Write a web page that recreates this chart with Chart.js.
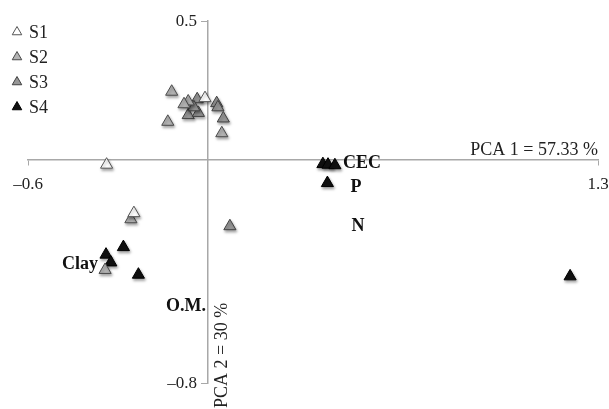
<!DOCTYPE html>
<html>
<head>
<meta charset="utf-8">
<script src="https://cdn.jsdelivr.net/npm/chart.js@4/dist/chart.umd.min.js"></script>
<style>
  html, body { margin: 0; padding: 0; background: #fff; }
  #wrap { width: 609px; height: 409px; }
</style>
</head>
<body>
<div id="wrap"><canvas id="pca" width="609" height="409"></canvas></div>
<script>
// scores (PCA 1, PCA 2)
const s1X = [-0.338, -0.010, -0.247];
const s1Y = [-0.016, 0.223, -0.190];

const s2X = [-0.121, -0.066, -0.080, -0.134, 0.046, -0.257, -0.343];
const s2Y = [0.246, 0.211, 0.201, 0.138, 0.097, -0.212, -0.394];

const s3X = [-0.036, 0.029, 0.033, -0.066, -0.032, -0.047, 0.051, 0.073];
const s3Y = [0.219, 0.205, 0.190, 0.162, 0.170, 0.190, 0.150, -0.237];

const s4X = [-0.282, -0.340, -0.324, -0.232, 0.383, 0.400, 0.423, 0.398, 1.207];
const s4Y = [-0.312, -0.339, -0.367, -0.411, -0.014, -0.016, -0.018, -0.082, -0.417];

// variable labels
const varNames = ['CEC', 'P', 'N', 'Clay', 'O.M.'];
const varX = [0.513, 0.493, 0.500, -0.427, -0.073];
const varY = [-0.011, -0.097, -0.237, -0.373, -0.524];

const xTicks = [-0.6, 1.3];
const yTicks = [-0.8, 0.5];
const xTitle = 'PCA 1 = 57.33 %';
const yTitle = 'PCA 2 = 30 %';

const seriesNames = ['S1', 'S2', 'S3', 'S4'];
const fills = ['#ffffff', '#b4b4b4', '#979797', '#111111'];
const borders = ['#555555', '#4a4a4a', '#404040', '#000000'];

const SERIF = '"Liberation Serif", "DejaVu Serif", serif';

const toPoints = (xs, ys) => xs.map((x, i) => ({ x: x, y: ys[i] }));
const allX = [s1X, s2X, s3X, s4X];
const allY = [s1Y, s2Y, s3Y, s4Y];

const datasets = seriesNames.map((name, i) => ({
  label: name,
  data: toPoints(allX[i], allY[i]),
  pointStyle: 'triangle',
  pointRadius: 7,
  pointBorderWidth: 1,
  backgroundColor: fills[i],
  borderColor: borders[i],
  clip: false
}));

const fmt = (v) => (v < 0 ? '\u2013' + Math.abs(v) : String(v));

// keep the end tick labels from pushing the plot area inwards
const noEdgePad = (axis) => {
  axis.paddingLeft = 0;
  axis.paddingRight = 0;
  axis.paddingTop = 0;
  axis.paddingBottom = 0;
};

const extras = {
  id: 'extras',
  beforeDatasetsDraw(chart) {
    const ctx = chart.ctx;
    ctx.save();
    ctx.shadowColor = 'rgba(0,0,0,0.35)';
    ctx.shadowBlur = 3;
    ctx.shadowOffsetX = 1;
    ctx.shadowOffsetY = 2;
  },
  afterDatasetsDraw(chart) {
    const ctx = chart.ctx;
    ctx.restore();
    const xs = chart.scales.x, ys = chart.scales.y;
    const x0 = xs.getPixelForValue(0);

    ctx.save();
    // y tick labels (chart.js puts them flush on a centred axis, so set them off by hand)
    ctx.fillStyle = '#222';
    ctx.font = '17px ' + SERIF;
    ctx.textAlign = 'right';
    ctx.textBaseline = 'middle';
    yTicks.forEach((v) => {
      ctx.fillText(fmt(v), x0 - 11, ys.getPixelForValue(v) + 1);
    });

    // variable labels
    ctx.fillStyle = '#111';
    ctx.font = 'bold 18px ' + SERIF;
    ctx.textAlign = 'center';
    varNames.forEach((n, i) => {
      ctx.fillText(n, xs.getPixelForValue(varX[i]), ys.getPixelForValue(varY[i]));
    });

    // axis titles
    ctx.font = '18px ' + SERIF;
    ctx.fillStyle = '#222';
    ctx.textAlign = 'right';
    ctx.fillText(xTitle, xs.getPixelForValue(xTicks[1]), ys.getPixelForValue(0) - 10);
    ctx.translate(x0 + 14, ys.getPixelForValue(yTicks[0]) + 25);
    ctx.rotate(-Math.PI / 2);
    ctx.textAlign = 'left';
    ctx.fillText(yTitle, 0, 0);
    ctx.restore();

    // legend
    ctx.save();
    ctx.font = '18px ' + SERIF;
    ctx.textBaseline = 'middle';
    ctx.textAlign = 'left';
    seriesNames.forEach((n, i) => {
      const cy = 32 + i * 25;
      const cx = 17, r = 5.5;
      ctx.beginPath();
      ctx.moveTo(cx, cy - r);
      ctx.lineTo(cx + r * 0.866, cy + r * 0.5);
      ctx.lineTo(cx - r * 0.866, cy + r * 0.5);
      ctx.closePath();
      ctx.fillStyle = fills[i];
      ctx.fill();
      ctx.strokeStyle = borders[i];
      ctx.lineWidth = 1;
      ctx.stroke();
      ctx.fillStyle = '#222';
      ctx.fillText(n, 29, cy + 1);
    });
    ctx.restore();
  }
};

new Chart(document.getElementById('pca'), {
  type: 'scatter',
  data: { datasets: datasets },
  options: {
    responsive: false,
    animation: false,
    layout: { padding: { left: 28, right: 11, top: 21, bottom: 26 } },
    plugins: {
      legend: { display: false },
      tooltip: { enabled: false }
    },
    scales: {
      x: {
        type: 'linear',
        position: { y: 0 },
        min: xTicks[0],
        max: xTicks[1],
        afterBuildTicks: (axis) => { axis.ticks = xTicks.map(v => ({ value: v })); },
        afterFit: noEdgePad,
        grid: { drawOnChartArea: false, tickLength: 5, color: '#a8a8a8' },
        border: { color: '#a8a8a8', width: 1.5 },
        ticks: {
          color: '#222',
          padding: 9,
          maxRotation: 0,
          font: { family: SERIF, size: 17 },
          callback: (v) => fmt(v)
        }
      },
      y: {
        type: 'linear',
        position: { x: 0 },
        min: yTicks[0],
        max: yTicks[1],
        afterBuildTicks: (axis) => { axis.ticks = yTicks.map(v => ({ value: v })); },
        afterFit: noEdgePad,
        grid: { drawOnChartArea: false, tickLength: 6, color: '#a8a8a8' },
        border: { color: '#a8a8a8', width: 1.5 },
        ticks: {
          color: 'rgba(0,0,0,0)',
          font: { family: SERIF, size: 17 },
          callback: (v) => fmt(v)
        }
      }
    }
  },
  plugins: [extras]
});
</script>
</body>
</html>
